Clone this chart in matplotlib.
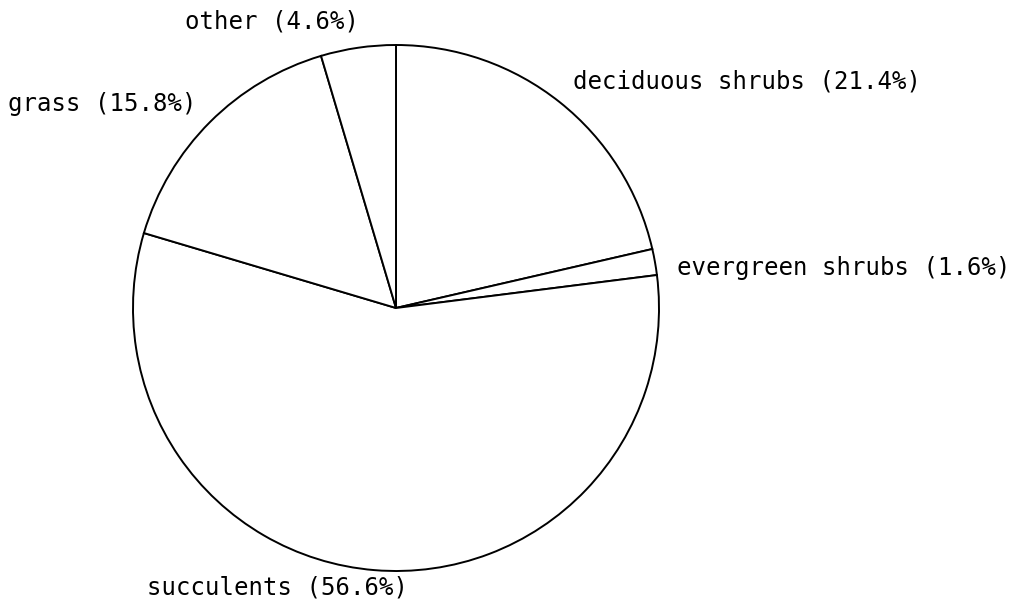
import matplotlib.pyplot as plt

# Vegetation composition (percent), clockwise from 12 o'clock
categories = ['deciduous shrubs', 'evergreen shrubs', 'succulents', 'grass', 'other']
shares = [21.4, 1.6, 56.6, 15.8, 4.6]

# label anchor (left x, center y) in pixels
label_pos = {
    'other': (185, 21),
    'deciduous shrubs': (573, 82),
    'grass': (8, 104),
    'evergreen shrubs': (677, 268),
    'succulents': (147, 587),
}

W, H = 1019, 607
fig = plt.figure(figsize=(W / 100, H / 100), dpi=100)
fig.patch.set_facecolor('white')

cx, cy, r = 396, 308, 263
ax = fig.add_axes([(cx - r) / W, (H - cy - r) / H, 2 * r / W, 2 * r / H])
ax.pie(shares, startangle=90, counterclock=False,
       colors=['white'] * len(shares),
       wedgeprops=dict(edgecolor='black', linewidth=1.4))
ax.set_xlim(-1, 1)
ax.set_ylim(-1, 1)
ax.set_aspect('auto')
ax.axis('off')

for cat, val in zip(categories, shares):
    x, y = label_pos[cat]
    fig.text(x / W, 1 - y / H, f'{cat} ({val}%)', fontsize=17.3,
             family='DejaVu Sans Mono', ha='left', va='center', color='black')

fig.savefig('out.png', dpi=100)
